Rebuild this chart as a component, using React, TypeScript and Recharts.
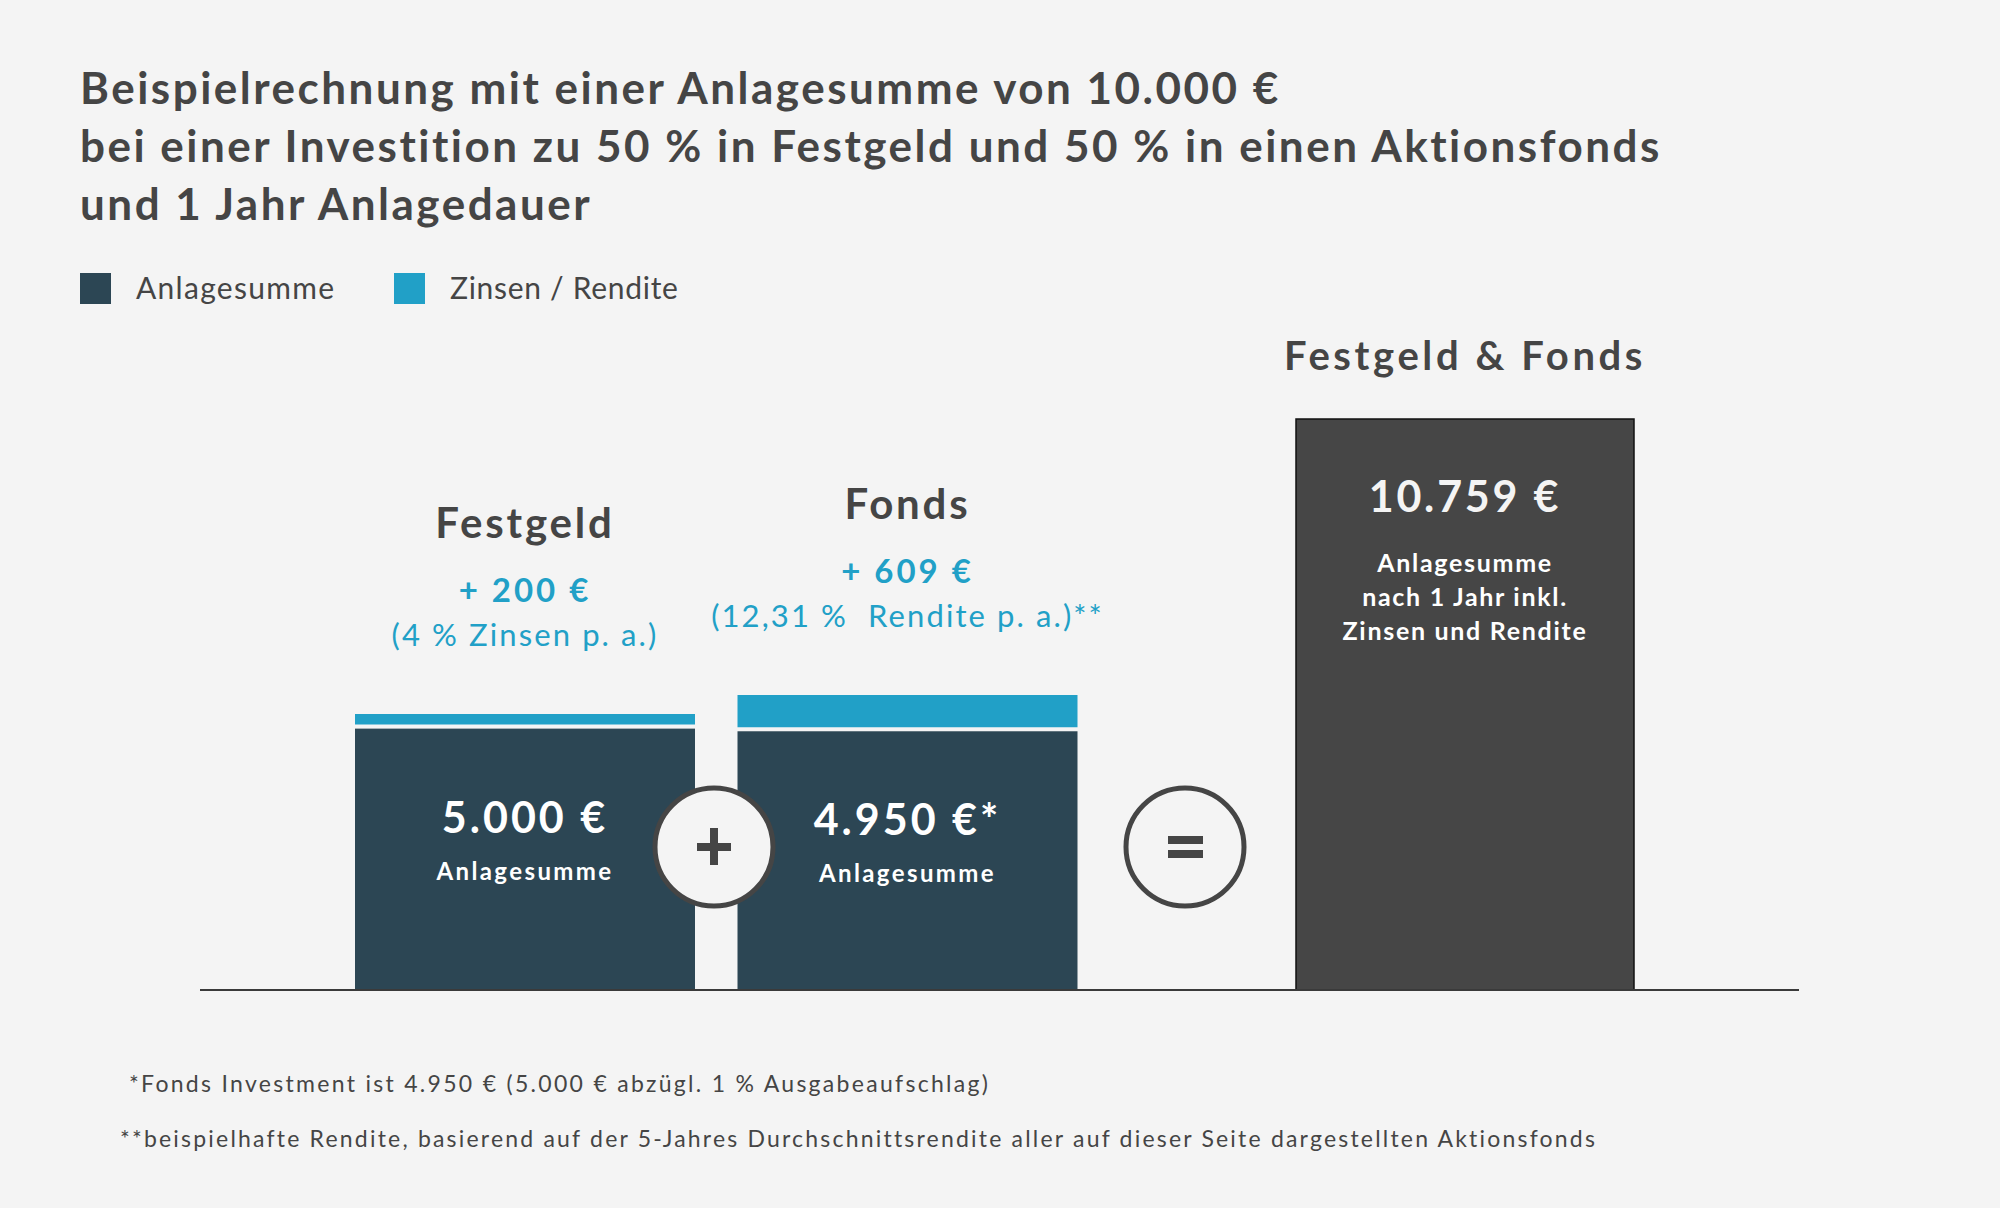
import { BarChart, Bar, XAxis, YAxis, LabelList } from 'recharts';

const categories = ['Festgeld', 'Fonds'];
const anlagesumme = [5000, 4950];
const zinsen = [200, 609];
const anlageLabels = ['5.000 €', '4.950 €*'];
const zinsenLabels = ['+ 200 €', '+ 609 €'];
const zinsenNotes = ['(4 % Zinsen p. a.)', '(12,31 %  Rendite p. a.)**'];

const totalCategory = 'Festgeld & Fonds';
const totalValue = 10759;
const totalLabel = '10.759 €';
const totalNotes = ['Anlagesumme', 'nach 1 Jahr inkl.', 'Zinsen und Rendite'];

const legendItems = ['Anlagesumme', 'Zinsen / Rendite'];
const titleLines = [
  'Beispielrechnung mit einer Anlagesumme von 10.000 €',
  'bei einer Investition zu 50 % in Festgeld und 50 % in einen Aktionsfonds',
  'und 1 Jahr Anlagedauer',
];
const footnotes = [
  '*Fonds Investment ist 4.950 € (5.000 € abzügl. 1 % Ausgabeaufschlag)',
  '**beispielhafte Rendite, basierend auf der 5-Jahres Durchschnittsrendite aller auf dieser Seite dargestellten Aktionsfonds',
];

const Y_MAX = 13000;

const BG = '#f4f4f4';
const DARK = '#2c4654';
const BLUE = '#21a0c7';
const GREY = '#464646';
const TEXT = '#454545';
const FONT = 'Lato, "Open Sans", sans-serif';

const rows = categories.map((name, i) => ({
  name,
  anlage: anlagesumme[i],
  zinsen: zinsen[i],
  anlageLabel: anlageLabels[i],
  zinsenLabel: zinsenLabels[i],
  zinsenNote: zinsenNotes[i],
}));

const totalRows = [{ name: totalCategory, total: totalValue, label: totalLabel }];

// dark segment leaves a thin light gap under the segment stacked on top
const GapRect = (props: any) => {
  const { x, y, width, height, fill } = props;
  return <rect x={x} y={y + 4} width={width} height={Math.max(height - 4, 0)} fill={fill} />;
};

const textAt = (dy: number, style: any) => (props: any) => {
  const { viewBox, value } = props;
  const { x, y, width } = viewBox;
  return (
    <text
      x={x + width / 2}
      y={y + dy}
      textAnchor="middle"
      fontFamily={FONT}
      style={{ whiteSpace: 'pre' }}
      {...style}
    >
      {value}
    </text>
  );
};

const totalNotesLabel = (props: any) => {
  const { viewBox } = props;
  const { x, y, width } = viewBox;
  return (
    <g>
      {totalNotes.map((line, i) => (
        <text
          key={line}
          x={x + width / 2}
          y={y + 153 + i * 34}
          textAnchor="middle"
          fontFamily={FONT}
          fontWeight={700}
          fontSize={25}
          letterSpacing={1.7}
          fill="#ffffff"
        >
          {line}
        </text>
      ))}
    </g>
  );
};

const axisLine = { stroke: '#3a3a3a', strokeWidth: 2 };

export default function App() {
  return (
    <div
      style={{
        position: 'absolute',
        left: 0,
        top: 0,
        width: 2000,
        height: 1208,
        background: BG,
        overflow: 'hidden',
      }}
    >
      <div style={{ position: 'absolute', left: 200, top: 300 }}>
        <BarChart
          width={1060}
          height={695}
          data={rows}
          margin={{ top: 0, right: 0, bottom: 4, left: 0 }}
          barSize={340}
        >
          <XAxis
            dataKey="name"
            tick={false}
            tickLine={false}
            height={1}
            padding={{ left: 134, right: 161 }}
            axisLine={axisLine}
          />
          <YAxis hide domain={[0, Y_MAX]} />
          <Bar dataKey="anlage" stackId="a" fill={DARK} shape={GapRect} isAnimationActive={false}>
            <LabelList
              dataKey="anlageLabel"
              content={textAt(108, { fontSize: 43, fontWeight: 700, fill: '#fff', letterSpacing: 3 })}
            />
            <LabelList
              dataKey="anlage"
              content={(p: any) =>
                textAt(155, { fontSize: 24, fontWeight: 700, fill: '#fff', letterSpacing: 2.4 })({
                  ...p,
                  value: legendItems[0],
                })
              }
            />
          </Bar>
          <Bar dataKey="zinsen" stackId="a" fill={BLUE} isAnimationActive={false}>
            <LabelList
              dataKey="name"
              content={textAt(-176, { fontSize: 42, fontWeight: 700, fill: TEXT, letterSpacing: 2.8 })}
            />
            <LabelList
              dataKey="zinsenLabel"
              content={textAt(-112, { fontSize: 33, fontWeight: 700, fill: BLUE, letterSpacing: 3 })}
            />
            <LabelList
              dataKey="zinsenNote"
              content={textAt(-68, { fontSize: 31, fontWeight: 400, fill: BLUE, letterSpacing: 2.1 })}
            />
          </Bar>
        </BarChart>
      </div>

      <div style={{ position: 'absolute', left: 1260, top: 300 }}>
        <BarChart
          width={539}
          height={695}
          data={totalRows}
          margin={{ top: 0, right: 0, bottom: 4, left: 0 }}
          barSize={338}
        >
          <XAxis
            dataKey="name"
            tick={false}
            tickLine={false}
            height={1}
            padding={{ left: 35, right: 164 }}
            axisLine={axisLine}
          />
          <YAxis hide domain={[0, Y_MAX]} />
          <Bar dataKey="total" fill={GREY} stroke="#111" strokeWidth={1.5} isAnimationActive={false}>
            <LabelList
              dataKey="name"
              content={textAt(-49, { fontSize: 40, fontWeight: 700, fill: TEXT, letterSpacing: 3.6 })}
            />
            <LabelList
              dataKey="label"
              content={textAt(93, { fontSize: 43, fontWeight: 700, fill: '#f4f4f4', letterSpacing: 2.8 })}
            />
            <LabelList dataKey="label" content={totalNotesLabel} />
          </Bar>
        </BarChart>
      </div>

      <svg
        width={2000}
        height={1208}
        style={{ position: 'absolute', left: 0, top: 0, pointerEvents: 'none' }}
      >
        {titleLines.map((line, i) => (
          <text
            key={line}
            x={80}
            y={104 + i * 58}
            fontFamily={FONT}
            fontWeight={700}
            fontSize={44}
            letterSpacing={2.5}
            fill={TEXT}
          >
            {line}
          </text>
        ))}

        <rect x={80} y={273} width={31} height={31} fill={DARK} />
        <text x={136} y={299} fontFamily={FONT} fontSize={30} letterSpacing={1.3} fill={TEXT}>
          {legendItems[0]}
        </text>
        <rect x={394} y={273} width={31} height={31} fill={BLUE} />
        <text x={450} y={299} fontFamily={FONT} fontSize={30} letterSpacing={0.7} fill={TEXT}>
          {legendItems[1]}
        </text>

        {/* operators between the bars */}
        <circle cx={714} cy={847} r={59} fill={BG} stroke={TEXT} strokeWidth={5} />
        <rect x={697} y={843} width={34} height={8} fill={TEXT} />
        <rect x={710} y={828} width={8} height={37} fill={TEXT} />
        <circle cx={1185} cy={847} r={59} fill={BG} stroke={TEXT} strokeWidth={5} />
        <rect x={1168} y={836} width={35} height={8} fill={TEXT} />
        <rect x={1168} y={850} width={35} height={8} fill={TEXT} />

        <text x={129} y={1092} fontFamily={FONT} fontSize={23} letterSpacing={2.3} fill={TEXT}>
          {footnotes[0]}
        </text>
        <text x={120} y={1147} fontFamily={FONT} fontSize={23} letterSpacing={2.2} fill={TEXT}>
          {footnotes[1]}
        </text>
      </svg>
    </div>
  );
}
